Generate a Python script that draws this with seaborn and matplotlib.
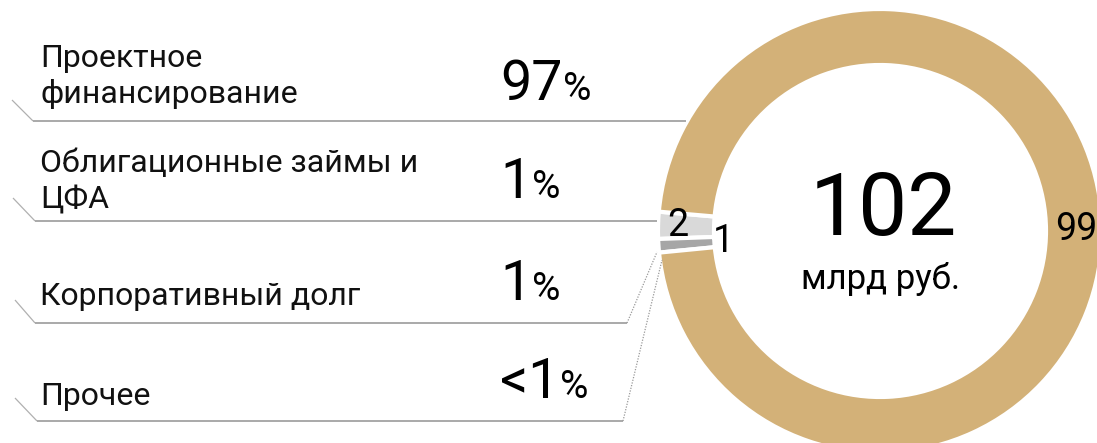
import matplotlib
matplotlib.use("Agg")
import matplotlib.pyplot as plt
import seaborn as sns
import numpy as np

# ---- data ----
categories = ["Проектное\nфинансирование", "Облигационные займы и\nЦФА",
              "Корпоративный долг", "Прочее"]
shares = ["97", "1", "1", "<1"]
ring_values = [2, 1, 99]
ring_labels = ["2", "1", "99"]
total_value = "102"
total_unit = "млрд руб."

sns.set_theme(style="white")
plt.rcParams['font.family'] = ['Roboto', 'DejaVu Sans']

W, H = 1097, 443
fig = plt.figure(figsize=(W / 100, H / 100), dpi=100)
ax = fig.add_axes([0, 0, 1, 1])
ax.set_xlim(0, W)
ax.set_ylim(0, H)
ax.set_aspect('equal', adjustable='box')
ax.axis('off')

def Y(p):
    return H - p

gold = "#D3B178"
light = "#D9D9D9"
dark = "#A6A6A6"
line_c = "#A3A3A3"

cx, cy = 880, Y(231)
R = 222
wedges, _ = ax.pie(ring_values, colors=[light, dark, gold], startangle=175.0,
                   counterclock=True, center=(cx, cy), radius=R, frame=True,
                   wedgeprops=dict(width=56, edgecolor="white", linewidth=3))
ax.set_xlim(0, W)
ax.set_ylim(0, H)
ax.axis('off')

label_r = [202, 157, 195]
for w, lab, r in zip(wedges, ring_labels, label_r):
    th = np.deg2rad((w.theta1 + w.theta2) / 2)
    x = cx + r * np.cos(th)
    y = cy + r * np.sin(th)
    ha = "left" if lab == "99" else "center"
    if lab == "99":
        x -= 20
    ax.text(x, y, lab, fontsize=27, ha=ha, va="center", color="black")

ax.text(883, Y(235), total_value, fontsize=63, ha="center", va="baseline", color="black")
ax.text(881, Y(289), total_unit, fontsize=25, ha="center", va="baseline", color="black")

# left labels
label_base = [67, 172, 305, 405]
for cat, b in zip(categories, label_base):
    for i, line in enumerate(cat.split("\n")):
        ax.text(40, Y(b + i * 36), line, fontsize=23, ha="left", va="baseline", color="#111111")

# leader lines
leaders = [
    [(12, 100), (33, 121), (686, 121)],
    [(13, 198), (35, 221), (657, 221)],
    [(15, 300), (35, 323), (627, 323)],
    [(15, 398), (37, 421), (623, 421)],
]
for pts in leaders:
    (x0, y0), (x1, y1), (x2, y2) = pts
    ax.plot([x0, x1], [Y(y0), Y(y1)], color="#B0B0B0", lw=0.9, solid_capstyle="butt")
    ax.plot([x1, x2], [Y(y1), Y(y2)], color=line_c, lw=1.3, solid_capstyle="butt")
dotted = [[(627, 323), (657, 252)], [(623, 421), (662, 260)]]
for (x0, y0), (x1, y1) in dotted:
    ax.plot([x0, x1], [Y(y0), Y(y1)], color="#999999", lw=0.9, linestyle=(0, (1, 1.2)))

# percentages
pct_base = [100, 198, 300, 398]
fig.canvas.draw()
renderer = fig.canvas.get_renderer()
for s, b in zip(shares, pct_base):
    t = ax.text(500, Y(b), s, fontsize=40, ha="left", va="baseline", color="black")
    ext = t.get_window_extent(renderer=renderer)
    ax.text(ext.x1 + 1, Y(b), "%", fontsize=28, ha="left", va="baseline", color="black")

fig.savefig("out.png", dpi=100, facecolor="white")
